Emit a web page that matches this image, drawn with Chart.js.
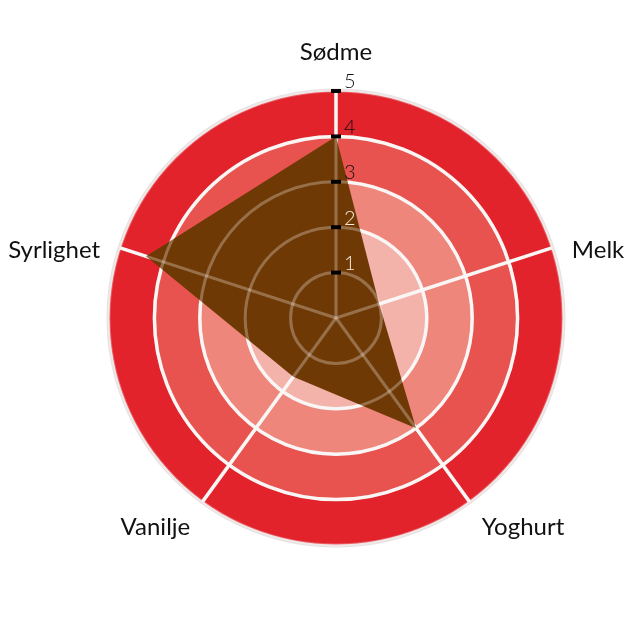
<!DOCTYPE html>
<html>
<head>
<meta charset="utf-8">
<script src="https://cdn.jsdelivr.net/npm/chart.js@4.4.1/dist/chart.umd.min.js"></script>
<style>
  html, body { margin: 0; padding: 0; background: #fff; }
</style>
</head>
<body>
<canvas id="myChart" width="640" height="640"></canvas>
<script>
const categories = ['Sødme', 'Melk', 'Yoghurt', 'Vanilje', 'Syrlighet'];
const scores = [4, 1, 3, 1.6, 4.4];
const tickLabels = ['1', '2', '3', '4', '5'];

// coloured rings behind the polygon (value ranges on the r scale)
const bands = [
  { from: 0, to: 2, color: '#f4b3aa' },
  { from: 2, to: 3, color: '#ef867b' },
  { from: 3, to: 4, color: '#e8534f' },
  { from: 4, to: 5, color: '#e3232c' }
];

const ringsPlugin = {
  id: 'rings',
  beforeDatasetsDraw(chart) {
    const s = chart.scales.r;
    const ctx = chart.ctx;
    const cx = s.xCenter, cy = s.yCenter;
    const outer = s.getDistanceFromCenterForValue(s.max);
    ctx.save();
    for (let i = bands.length - 1; i >= 0; i--) {
      ctx.beginPath();
      ctx.arc(cx, cy, s.getDistanceFromCenterForValue(bands[i].to), 0, Math.PI * 2);
      ctx.fillStyle = bands[i].color;
      ctx.fill();
    }
    ctx.strokeStyle = '#f8f3f1';
    ctx.lineWidth = 3.5;
    bands.forEach(b => {
      if (b.from <= 0) return;
      ctx.beginPath();
      ctx.arc(cx, cy, s.getDistanceFromCenterForValue(b.from), 0, Math.PI * 2);
      ctx.stroke();
    });
    categories.forEach((c, i) => {
      const p = s.getPointPosition(i, outer);
      ctx.beginPath();
      ctx.moveTo(cx, cy);
      ctx.lineTo(p.x, p.y);
      ctx.stroke();
    });
    ctx.strokeStyle = '#e8e1e0';
    ctx.lineWidth = 3;
    ctx.beginPath();
    ctx.arc(cx, cy, outer + 1, 0, Math.PI * 2);
    ctx.stroke();
    ctx.restore();
  }
};

const labelsPlugin = {
  id: 'labels',
  afterDraw(chart) {
    const s = chart.scales.r;
    const ctx = chart.ctx;
    const cx = s.xCenter, cy = s.yCenter;
    ctx.save();
    // tick marks + values on the first axis
    ctx.font = '300 20px Lato, "Open Sans", sans-serif';
    ctx.textAlign = 'left';
    ctx.textBaseline = 'middle';
    s.ticks.forEach(t => {
      if (t.value <= 0) return;
      const y = cy - s.getDistanceFromCenterForValue(t.value);
      ctx.fillStyle = '#000';
      ctx.fillRect(cx - 5, y - 2, 10, 4);
      ctx.fillStyle = t.value <= 2 ? '#f6ead8' : '#141010';
      ctx.fillText(t.label, cx + 8, y - 9);
    });
    // category names
    const outer = s.getDistanceFromCenterForValue(s.max);
    ctx.font = '400 24px Lato, "Open Sans", sans-serif';
    ctx.fillStyle = '#111';
    chart.data.labels.forEach((lab, i) => {
      const p = s.getPointPosition(i, outer + 21);
      const c = Math.cos(p.angle);
      if (Math.abs(c) < 0.05) {
        ctx.textAlign = 'center';
        ctx.fillText(lab, p.x, p.y - 18);
      } else {
        ctx.textAlign = c > 0 ? 'left' : 'right';
        ctx.fillText(lab, p.x, p.y + 9);
      }
    });
    ctx.restore();
  }
};

new Chart('myChart', {
  type: 'radar',
  data: {
    labels: categories,
    datasets: [{
      data: scores,
      fill: true,
      backgroundColor: '#6f3905',
      borderWidth: 0,
      pointRadius: 0
    }]
  },
  options: {
    responsive: false,
    animation: false,
    layout: { padding: { left: 109, right: 76, top: 91, bottom: 94 } },
    plugins: {
      legend: { display: false },
      tooltip: { enabled: false }
    },
    scales: {
      r: {
        min: 0,
        max: 5,
        ticks: {
          stepSize: 1,
          display: false,
          z: 1,
          callback: v => v > 0 ? tickLabels[v - 1] : ''
        },
        grid: { circular: true, color: 'rgba(255,255,255,0.28)', lineWidth: 3, z: 1 },
        angleLines: { color: 'rgba(255,255,255,0.28)', lineWidth: 3 },
        pointLabels: { display: false }
      }
    }
  },
  plugins: [ringsPlugin, labelsPlugin]
});
</script>
</body>
</html>
